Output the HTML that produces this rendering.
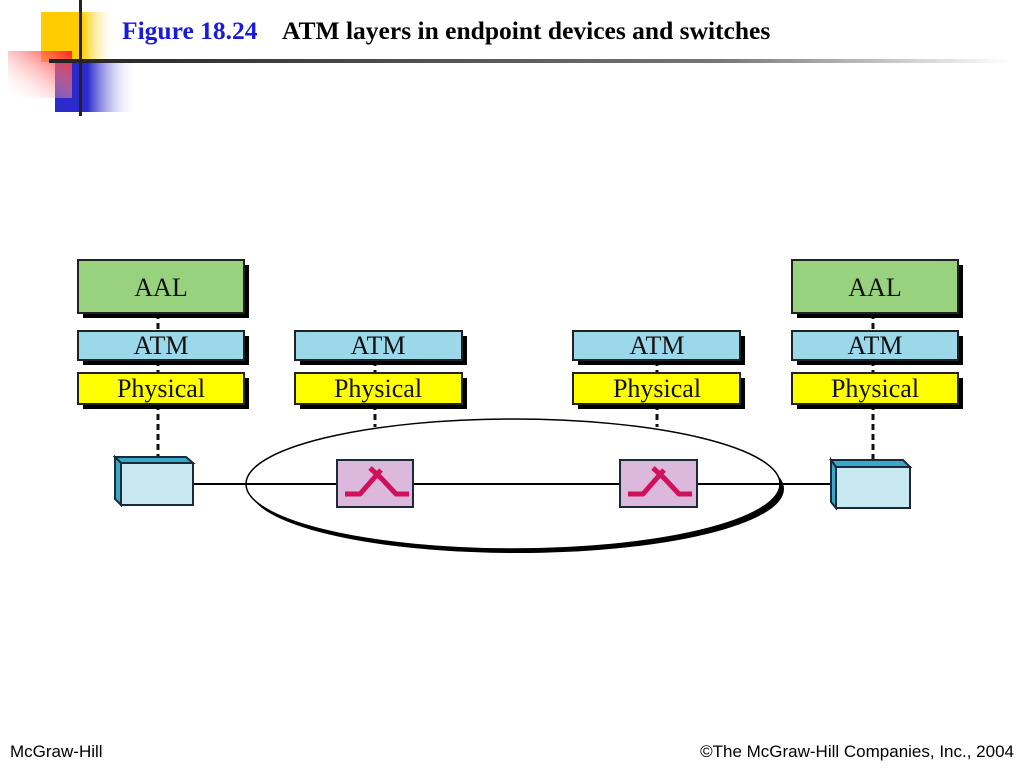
<!DOCTYPE html>
<html><head><meta charset="utf-8"><style>
body{margin:0;width:1024px;height:768px;background:#fff;overflow:hidden;position:relative;font-family:"Liberation Serif",serif}
.t{position:absolute;top:16px;font-weight:bold;font-size:25.5px}
.f{position:absolute;bottom:6px;font-family:"Liberation Sans",sans-serif;font-size:17px;color:#000}
</style></head><body>
<svg width="1024" height="768" style="position:absolute;left:0;top:0">
<defs>
<linearGradient id="gy" x1="0" x2="1"><stop offset="0.55" stop-color="#ffcc00"/><stop offset="1" stop-color="#fff" stop-opacity="0"/></linearGradient>
<linearGradient id="gr" x1="1" x2="0" y1="0" y2="1"><stop offset="0" stop-color="#ff2020"/><stop offset="1" stop-color="#fff" stop-opacity="0"/></linearGradient>
<linearGradient id="gb" x1="0" x2="1"><stop offset="0.4" stop-color="#2b2bcc"/><stop offset="1" stop-color="#fff" stop-opacity="0"/></linearGradient>
<linearGradient id="gl" x1="0" x2="1"><stop offset="0" stop-color="#222"/><stop offset="0.7" stop-color="#777"/><stop offset="1" stop-color="#fff"/></linearGradient>
</defs>
<rect x="41" y="12" width="75" height="50" fill="url(#gy)"/>
<rect x="55" y="62" width="82" height="50" fill="url(#gb)"/>
<rect x="8" y="51" width="64" height="47" fill="url(#gr)"/>
<rect x="49" y="59" width="960" height="4" fill="url(#gl)"/>
<rect x="79" y="0" width="3" height="116" fill="#222"/>
<ellipse cx="517" cy="489" rx="267" ry="64" fill="#000"/>
<ellipse cx="513" cy="484" rx="267" ry="65" fill="#fff" stroke="#000" stroke-width="1.5"/>
<g font-family="Liberation Serif,serif" font-size="26" text-anchor="middle" fill="#111" stroke="#222" stroke-width="2">
<g stroke-dasharray="6,4" stroke-width="3" stroke="#111">
<line x1="158" y1="313" x2="158" y2="331"/><line x1="158" y1="360" x2="158" y2="373"/><line x1="158" y1="404" x2="158" y2="458"/>
<line x1="375" y1="360" x2="375" y2="373"/><line x1="375" y1="404" x2="375" y2="427"/>
<line x1="657" y1="360" x2="657" y2="373"/><line x1="657" y1="404" x2="657" y2="427"/>
<line x1="873" y1="313" x2="873" y2="331"/><line x1="873" y1="360" x2="873" y2="373"/><line x1="873" y1="404" x2="873" y2="460"/>
</g>
<g fill="#000" stroke="none">
<rect x="83" y="265" width="166" height="53"/><rect x="797" y="265" width="166" height="53"/>
<rect x="83" y="336" width="166" height="29"/><rect x="300" y="336" width="167" height="29"/><rect x="578" y="336" width="167" height="29"/><rect x="797" y="336" width="166" height="29"/>
<rect x="83" y="378" width="166" height="31"/><rect x="300" y="378" width="167" height="31"/><rect x="578" y="378" width="167" height="31"/><rect x="797" y="378" width="166" height="31"/>
</g>
<rect x="78" y="260" width="166" height="53" fill="#99d27f"/><rect x="792" y="260" width="166" height="53" fill="#99d27f"/>
<rect x="78" y="331" width="166" height="29" fill="#9ad8ea"/><rect x="295" y="331" width="167" height="29" fill="#9ad8ea"/><rect x="573" y="331" width="167" height="29" fill="#9ad8ea"/><rect x="792" y="331" width="166" height="29" fill="#9ad8ea"/>
<rect x="78" y="373" width="166" height="31" fill="#ffff00"/><rect x="295" y="373" width="167" height="31" fill="#ffff00"/><rect x="573" y="373" width="167" height="31" fill="#ffff00"/><rect x="792" y="373" width="166" height="31" fill="#ffff00"/>
<g stroke="none">
<text x="161" y="296">AAL</text><text x="875" y="296">AAL</text>
<text x="161" y="354">ATM</text><text x="378" y="354">ATM</text><text x="657" y="354">ATM</text><text x="875" y="354">ATM</text>
<text x="161" y="397">Physical</text><text x="378" y="397">Physical</text><text x="657" y="397">Physical</text><text x="875" y="397">Physical</text>
</g>
</g>
<line x1="193" y1="484" x2="836" y2="484" stroke="#000" stroke-width="2"/>
<g stroke="#1a2a3a" stroke-width="2">
<polygon points="115,457 186,457 193,463 121,463" fill="#3aa9c8"/>
<polygon points="115,457 121,463 121,505 115,499" fill="#3aa9c8"/>
<rect x="121" y="463" width="72" height="42" fill="#c8e9f2"/>
<polygon points="831,460 903,460 910,467 836,467" fill="#3aa9c8"/>
<polygon points="831,460 836,467 836,508 831,502" fill="#3aa9c8"/>
<rect x="836" y="467" width="74" height="41" fill="#c8e9f2"/>
<rect x="337" y="460" width="76" height="47" fill="#dcb8dc"/>
<rect x="620" y="460" width="77" height="47" fill="#dcb8dc"/>
</g>
<g fill="none" stroke="#d0105a" stroke-width="5" stroke-linejoin="round">
<path d="M345,494 L360,494 L381,470 M370,468 L381,478 L396,494 L409,494"/>
<path d="M628,494 L643,494 L664,470 M653,468 L664,478 L679,494 L692,494"/>
</g>
</svg>
<div class="t" style="left:122px;color:#1a1adc">Figure 18.24</div>
<div class="t" style="left:282px;color:#000">ATM layers in endpoint devices and switches</div>
<div class="f" style="left:10px">McGraw-Hill</div>
<div class="f" style="right:10px">©The McGraw-Hill Companies, Inc., 2004</div>
</body></html>
